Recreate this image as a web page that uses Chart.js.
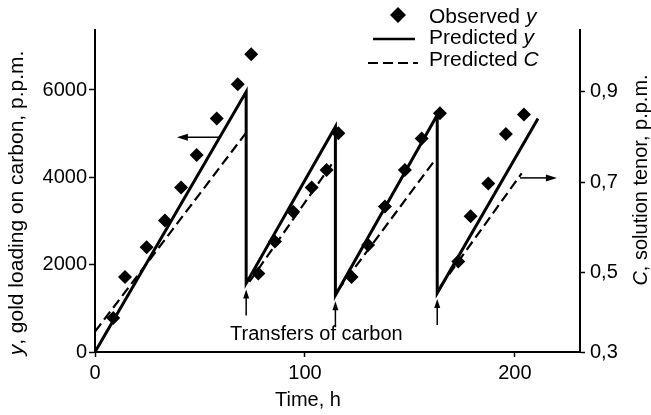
<!DOCTYPE html>
<html>
<head>
<meta charset="utf-8">
<script src="https://cdn.jsdelivr.net/npm/chart.js@4.4.1/dist/chart.umd.min.js"></script>
<style>
  html, body { margin: 0; padding: 0; background: #fff; }
  canvas { display: block; }
</style>
</head>
<body>
<canvas id="chart" width="651" height="415"></canvas>
<script>
// observed gold loading on carbon (p.p.m.) against time (h)
const obsTime = [8.7, 14.3, 24.6, 33.3, 41.0, 48.4, 58.0, 68.0, 74.4,
                 77.8, 85.7, 94.4, 103.2, 110.3, 115.9,
                 122.2, 130.1, 138.1, 147.6, 155.6, 164.3,
                 173.0, 178.9, 187.3, 195.7, 204.3];
const obsLoading = [780, 1720, 2400, 3010, 3770, 4510, 5350, 6130, 6820,
                    1800, 2530, 3210, 3770, 4170, 5010,
                    1720, 2450, 3330, 4170, 4890, 5470,
                    2070, 3110, 3860, 4990, 5440];

// predicted loading, drops at every transfer of carbon
const predTime = [0, 72, 72, 114.5, 114.5, 163, 163, 211];
const predLoading = [0, 5960, 1570, 5160, 1300, 5430, 1350, 5350];

// predicted solution tenor, null breaks the line between cycles
const tenorTime = [0, 72, 72, 73.5, 112.7, 113, 115.5, 162, 162.5, 164.5, 203.2];
const tenorC = [0.37, 0.81, null, 0.48, 0.74, null, 0.46, 0.75, null, 0.47, 0.72];

const transferTimes = [72, 114.5, 163];
const transferBottoms = [1570, 1300, 1350];

const xTicks = [0, 100, 200];
const yTicks = [0, 2000, 4000, 6000];
// the original puts "0,3" at the corner of the axis, a bit off the linear spacing
const cTicks = [0.325, 0.5, 0.7, 0.9];
const cTickLabels = ['0,3', '0,5', '0,7', '0,9'];

const FONT = '"Liberation Sans", Arial, Helvetica, sans-serif';

function zip(xs, ys) {
  return xs.map((v, i) => ({ x: v, y: ys[i] }));
}

function arrow(ctx, x1, y1, x2, y2, head, half) {
  const a = Math.atan2(y2 - y1, x2 - x1);
  ctx.beginPath();
  ctx.moveTo(x1, y1);
  ctx.lineTo(x2 - head * 0.7 * Math.cos(a), y2 - head * 0.7 * Math.sin(a));
  ctx.stroke();
  ctx.beginPath();
  ctx.moveTo(x2, y2);
  ctx.lineTo(x2 - head * Math.cos(a) + half * Math.sin(a), y2 - head * Math.sin(a) - half * Math.cos(a));
  ctx.lineTo(x2 - head * Math.cos(a) - half * Math.sin(a), y2 - head * Math.sin(a) + half * Math.cos(a));
  ctx.closePath();
  ctx.fill();
}

// text made of plain and italic parts, [text, italic]
function richText(ctx, parts, x, y, size, align) {
  const widths = parts.map(p => {
    ctx.font = (p[1] ? 'italic ' : '') + size + 'px ' + FONT;
    return ctx.measureText(p[0]).width;
  });
  const total = widths.reduce((a, b) => a + b, 0);
  let cx = align === 'center' ? x - total / 2 : x;
  ctx.textAlign = 'left';
  parts.forEach((p, i) => {
    ctx.font = (p[1] ? 'italic ' : '') + size + 'px ' + FONT;
    ctx.fillText(p[0], cx, y);
    cx += widths[i];
  });
}

const extras = {
  id: 'extras',
  afterDraw(chart) {
    const { ctx, scales: { x, y, c } } = chart;
    ctx.save();
    ctx.fillStyle = '#000';
    ctx.strokeStyle = '#000';
    ctx.textBaseline = 'alphabetic';

    // legend
    ctx.beginPath();
    ctx.moveTo(398, 7); ctx.lineTo(406, 15); ctx.lineTo(398, 23); ctx.lineTo(390, 15);
    ctx.closePath(); ctx.fill();
    ctx.lineWidth = 2.5;
    ctx.beginPath(); ctx.moveTo(373, 39); ctx.lineTo(415, 39); ctx.stroke();
    ctx.lineWidth = 2;
    ctx.setLineDash([10, 5]);
    ctx.beginPath(); ctx.moveTo(368, 63); ctx.lineTo(418, 63); ctx.stroke();
    ctx.setLineDash([]);
    richText(ctx, [['Observed ', false], ['y', true]], 429, 23, 21, 'left');
    richText(ctx, [['Predicted ', false], ['y', true]], 429, 44, 21, 'left');
    richText(ctx, [['Predicted ', false], ['C', true]], 429, 66, 21, 'left');

    // axis titles
    ctx.textBaseline = 'middle';
    richText(ctx, [['Time, h', false]], 308, 400, 20, 'center');
    ctx.save();
    ctx.translate(17, 203);
    ctx.rotate(-Math.PI / 2);
    richText(ctx, [['y', true], [', gold loading on carbon, p.p.m.', false]], 0, 0, 21, 'center');
    ctx.restore();
    ctx.save();
    ctx.translate(641, 180);
    ctx.rotate(-Math.PI / 2);
    richText(ctx, [['C', true], [', solution tenor, p.p.m.', false]], 0, 0, 20, 'center');
    ctx.restore();

    // arrows to the axes
    ctx.lineWidth = 1.5;
    arrow(ctx, x.getPixelForValue(59.5), y.getPixelForValue(4920),
          x.getPixelForValue(39), y.getPixelForValue(4920), 11, 3.5);
    arrow(ctx, x.getPixelForValue(202.4), c.getPixelForValue(0.71),
          x.getPixelForValue(220), c.getPixelForValue(0.71), 11, 3.5);

    // transfers of carbon
    transferTimes.forEach((t, i) => {
      const px = x.getPixelForValue(t);
      const tip = y.getPixelForValue(transferBottoms[i]) + 6;
      arrow(ctx, px, tip + 26, px, tip, 9, 3);
    });
    richText(ctx, [['Transfers of carbon', false]], x.getPixelForValue(64.3), y.getPixelForValue(390), 20, 'left');
    ctx.restore();
  }
};

const axisGrid = { drawOnChartArea: false, drawTicks: true, tickLength: 6, tickColor: '#000', tickWidth: 1.5, color: '#000' };
const axisBorder = { display: true, color: '#000', width: 2 };
const tickFont = { family: FONT, size: 20 };

new Chart(document.getElementById('chart'), {
  type: 'line',
  data: {
    datasets: [
      {
        label: 'Observed y',
        type: 'scatter',
        data: zip(obsTime, obsLoading),
        yAxisID: 'y',
        showLine: false,
        pointStyle: 'rectRot',
        pointRadius: 7,
        pointBackgroundColor: '#000',
        pointBorderColor: '#000',
        pointBorderWidth: 0
      },
      {
        label: 'Predicted y',
        data: zip(predTime, predLoading),
        yAxisID: 'y',
        borderColor: '#000',
        borderWidth: 3,
        pointRadius: 0,
        tension: 0,
        fill: false
      },
      {
        label: 'Predicted C',
        data: zip(tenorTime, tenorC),
        yAxisID: 'c',
        borderColor: '#000',
        borderWidth: 2.2,
        borderDash: [10, 5],
        pointRadius: 0,
        tension: 0,
        spanGaps: false,
        fill: false
      }
    ]
  },
  options: {
    responsive: false,
    animation: false,
    layout: { padding: { top: 30, left: 0, right: 0, bottom: 0 } },
    plugins: { legend: { display: false }, tooltip: { enabled: false } },
    scales: {
      x: {
        type: 'linear',
        min: 0,
        max: 231,
        afterBuildTicks: s => { s.ticks = xTicks.map(v => ({ value: v })); },
        afterFit: s => { s.height = 63; },
        grid: Object.assign({}, axisGrid, { tickLength: 5 }),
        border: axisBorder,
        ticks: { color: '#000', font: tickFont, padding: 4, maxRotation: 0, callback: v => String(v) }
      },
      y: {
        type: 'linear',
        position: 'left',
        min: 0,
        max: 7374,
        afterBuildTicks: s => { s.ticks = yTicks.map(v => ({ value: v })); },
        afterFit: s => { s.width = 95; },
        grid: axisGrid,
        border: axisBorder,
        ticks: { color: '#000', font: tickFont, padding: 2, callback: v => String(v) }
      },
      c: {
        type: 'linear',
        position: 'right',
        min: 0.325,
        max: 1.037,
        afterBuildTicks: s => { s.ticks = cTicks.map(v => ({ value: v })); },
        afterFit: s => { s.width = 71; },
        grid: Object.assign({}, axisGrid, { tickLength: 5 }),
        border: axisBorder,
        ticks: {
          color: '#000',
          font: tickFont,
          padding: 5,
          callback: (v, i) => cTickLabels[i]
        }
      }
    }
  },
  plugins: [extras]
});
</script>
</body>
</html>
